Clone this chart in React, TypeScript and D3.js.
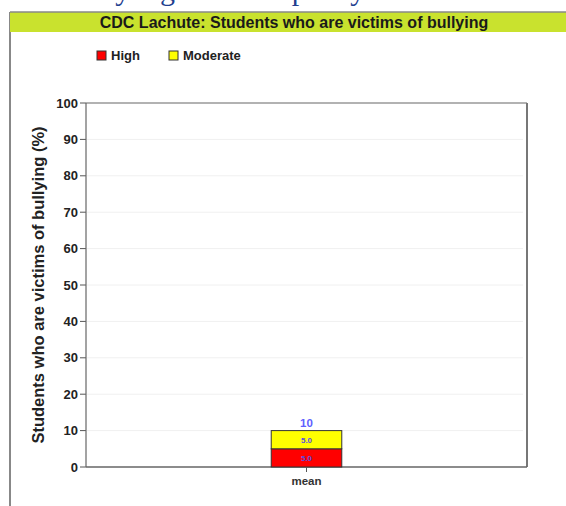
import React from "react";
import * as d3 from "d3";

const categories = ["mean"];
const seriesNames = ["High", "Moderate"];
const seriesColors = ["#ff0000", "#ffff00"];
const highValues = [5.0];
const moderateValues = [5.0];
const yTicks = [0, 10, 20, 30, 40, 50, 60, 70, 80, 90, 100];
const titleText = "CDC Lachute: Students who are victims of bullying";
const yAxisLabel = "Students who are victims of bullying (%)";
const clippedHeading = [
  { ch: "y", pos: 0.027 },
  { ch: "g", pos: 0.106 },
  { ch: "p", pos: 0.339 },
  { ch: "y", pos: 0.442 },
];

const W = 566;
const H = 506;
const margin = { left: 86, right: 39, top: 103, bottom: 39 };

export default function App() {
  const plotW = W - margin.left - margin.right;
  const plotH = H - margin.top - margin.bottom;
  const x = d3.scaleBand().domain(categories).range([0, plotW]).paddingInner(0.2).paddingOuter(2.1);
  const y = d3.scaleLinear().domain([0, 100]).range([plotH, 0]);
  const headScale = d3.scaleLinear().domain([0, 1]).range([0, W]);

  const stackData = categories.map((c, i) => ({ cat: c, High: highValues[i], Moderate: moderateValues[i] }));
  const stack = d3.stack<any>().keys(seriesNames)(stackData);
  const font = "'Liberation Sans', Arial, sans-serif";
  const legendX = [97, 169];

  return (
    <svg width={W} height={H} style={{ position: "absolute", left: 0, top: 0 }} fontFamily={font}>
      <rect x={0} y={0} width={W} height={H} fill="#ffffff" />
      {/* clipped heading descenders from page above */}
      {clippedHeading.map((d, i) => (
        <text key={i} x={headScale(d.pos) + 100} y={0} fontFamily="'Liberation Serif', 'DejaVu Serif', serif" fontSize={30} fill="#1f3f8f">
          {d.ch}
        </text>
      ))}
      {/* frame */}
      <line x1={10} x2={10} y1={12} y2={H} stroke="#888" strokeWidth={2} />
      <rect x={10} y={12} width={W - 10} height={20} fill="#c9e22e" />
      <line x1={10} x2={W} y1={12} y2={12} stroke="#888" strokeWidth={1.5} />
      <text x={294} y={28} textAnchor="middle" fontSize={16} fontWeight="bold" fill="#1a1a1a">
        {titleText}
      </text>
      {/* legend */}
      {seriesNames.map((s, i) => (
        <g key={s} transform={`translate(${legendX[i]},51)`}>
          <rect x={0} y={0} width={9} height={9} fill={seriesColors[i]} stroke="#333" strokeWidth={1} />
          <text x={14} y={9} fontSize={13} fontWeight="bold" fill="#222">
            {s}
          </text>
        </g>
      ))}
      <g transform={`translate(${margin.left},${margin.top})`}>
        {yTicks.map((t) => (
          <g key={t}>
            {t > 0 && t < 100 && (
              <line x1={1} x2={plotW - 4} y1={y(t)} y2={y(t)} stroke="#f0f0f0" strokeWidth={1} />
            )}
            <line x1={-6} x2={0} y1={y(t)} y2={y(t)} stroke="#555" strokeWidth={1} />
            <text x={-8} y={y(t) + 4.5} textAnchor="end" fontSize={13} fontWeight="bold" fill="#222">
              {t}
            </text>
          </g>
        ))}
        {/* plot border */}
        <line x1={0} x2={plotW} y1={0} y2={0} stroke="#666" strokeWidth={1.2} />
        <line x1={plotW} x2={plotW} y1={0} y2={plotH} stroke="#777" strokeWidth={2} />
        <line x1={0} x2={0} y1={0} y2={plotH} stroke="#666" strokeWidth={1.2} />
        <line x1={0} x2={plotW} y1={plotH} y2={plotH} stroke="#666" strokeWidth={1.5} />
        {/* bars */}
        {stack.map((layer, li) =>
          layer.map((d, di) => (
            <rect
              key={`${li}-${di}`}
              x={x(d.data.cat)!}
              y={y(d[1])}
              width={x.bandwidth()}
              height={y(d[0]) - y(d[1])}
              fill={seriesColors[li]}
              stroke="#333"
              strokeWidth={1}
            />
          ))
        )}
        {stack.map((layer, li) =>
          layer.map((d, di) => (
            <text
              key={`l${li}-${di}`}
              x={x(d.data.cat)! + x.bandwidth() / 2}
              y={(y(d[0]) + y(d[1])) / 2 + 3}
              textAnchor="middle"
              fontSize={8}
              fontWeight="bold"
              fill="#5a4fe0"
            >
              {(d[1] - d[0]).toFixed(1)}
            </text>
          ))
        )}
        {categories.map((c, i) => {
          const total = highValues[i] + moderateValues[i];
          const cx = x(c)! + x.bandwidth() / 2;
          return (
            <g key={c}>
              <text x={cx} y={y(total) - 4} textAnchor="middle" fontSize={11.5} fontWeight="bold" fill="#6060ff">
                {d3.format("d")(total)}
              </text>
              <line x1={cx} x2={cx} y1={plotH} y2={plotH + 5} stroke="#555" />
              <text x={cx} y={plotH + 18} textAnchor="middle" fontSize={11.5} fontWeight="bold" fill="#333">
                {c}
              </text>
            </g>
          );
        })}
      </g>
      <text
        transform={`translate(44,${margin.top + plotH / 2}) rotate(-90)`}
        textAnchor="middle"
        fontSize={16.5}
        fontWeight="bold"
        fill="#222"
      >
        {yAxisLabel}
      </text>
    </svg>
  );
}
